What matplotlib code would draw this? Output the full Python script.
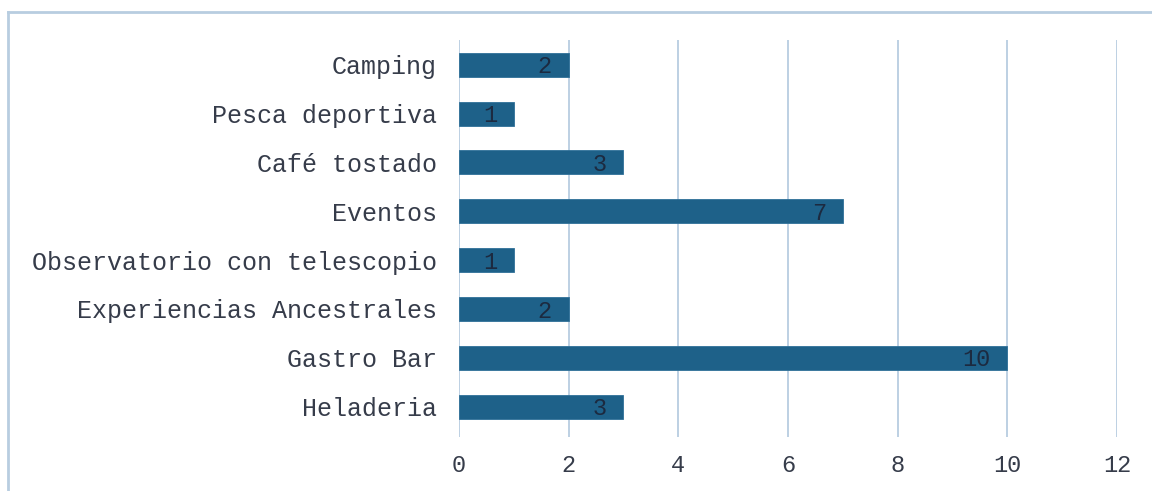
import matplotlib.pyplot as plt
from matplotlib.lines import Line2D

# Datos (de abajo hacia arriba)
categorias = ["Heladeria", "Gastro Bar", "Experiencias Ancestrales",
              "Observatorio con telescopio", "Eventos", "Café tostado",
              "Pesca deportiva", "Camping"]
valores = [3, 10, 2, 1, 7, 3, 1, 2]
ticks_x = [0, 2, 4, 6, 8, 10, 12]

fuente = "Liberation Mono"
color_texto = "#363c4a"

fig = plt.figure(figsize=(11.52, 4.91), dpi=100)
ax = fig.add_axes([0.3984, 0.11, 0.5712, 0.808])

barras = ax.barh(range(len(categorias)), valores, height=0.49,
                 color="#1e6189", edgecolor="#2f7098", linewidth=0.6, zorder=3)

for b, v in zip(barras, valores):
    ax.annotate(str(v), (b.get_width(), b.get_y() + b.get_height() / 2),
                xytext=(-12, -1.5), textcoords="offset points",
                ha="right", va="center", fontsize=17, family=fuente,
                color="#1c2a40", zorder=4)

ax.set_xlim(0, 12)
ax.set_ylim(-0.62, 7.5)
ax.set_xticks(ticks_x)
ax.set_yticks(range(len(categorias)))
ax.set_yticklabels(categorias)
ax.xaxis.grid(True, color="#b7cde0", linewidth=1.3, zorder=0)
ax.set_axisbelow(True)
for s in ax.spines.values():
    s.set_visible(False)
ax.tick_params(axis="y", length=0, labelsize=18, labelcolor=color_texto, pad=16)
ax.tick_params(axis="x", length=0, labelsize=17, labelcolor=color_texto, pad=12)
for lbl in ax.get_xticklabels() + ax.get_yticklabels():
    lbl.set_family(fuente)

# marco del gráfico (arriba e izquierda)
fig.add_artist(Line2D([8 / 1152, 1], [1 - 12 / 491, 1 - 12 / 491],
                      color="#b8cde0", linewidth=2, transform=fig.transFigure))
fig.add_artist(Line2D([8 / 1152, 8 / 1152], [0, 1 - 12 / 491],
                      color="#b8cde0", linewidth=2, transform=fig.transFigure))

fig.savefig("out.png", dpi=100)
